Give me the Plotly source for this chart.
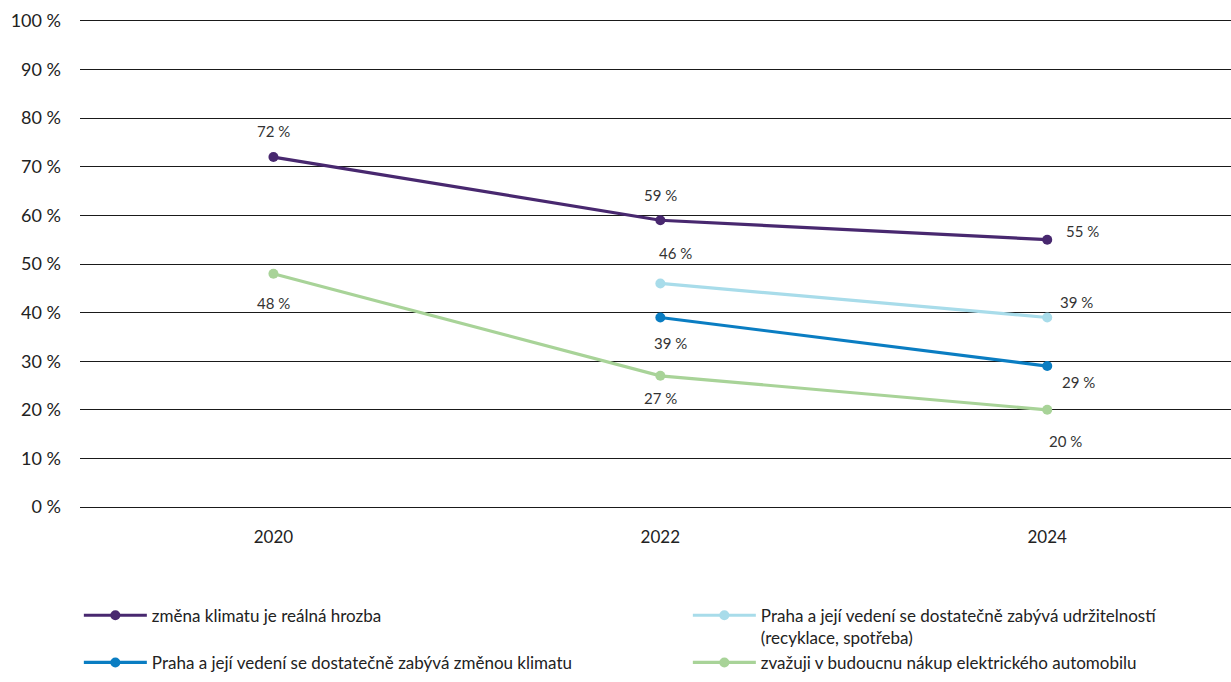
import plotly.graph_objects as go

years = ["2020", "2022", "2024"]
names = [
    "změna klimatu je reálná hrozba",
    "Praha a její vedení se dostatečně zabývá udržitelností<br>(recyklace, spotřeba)",
    "Praha a její vedení se dostatečně zabývá změnou klimatu",
    "zvažuji v budoucnu nákup elektrického automobilu",
]
climate_threat = [72, 59, 55]
sustainability = [None, 46, 39]
climate_city = [None, 39, 29]
electric_car = [48, 27, 20]
series = [climate_threat, sustainability, climate_city, electric_car]
colors = ["#48286f", "#a8dcea", "#0a7dc2", "#a8d398"]

# label offsets (xshift, yshift) per series per point
offsets = [
    [(0, 26), (0, 25), (35, 9)],
    [None, (15, 30), (29, 15)],
    [None, (10, -26), (31, -16)],
    [(0, -29), (0, -22), (18, -31)],
]

fig = go.Figure()
xi = list(range(len(years)))
for name, vals, col in zip(names, series, colors):
    xs = [x for x, v in zip(xi, vals) if v is not None]
    ys = [v for v in vals if v is not None]
    fig.add_trace(go.Scatter(
        x=xs, y=ys, name=name, mode="lines+markers",
        line=dict(color=col, width=3.2),
        marker=dict(color=col, size=10),
        hoverinfo="skip",
    ))

for vals, offs in zip(series, offsets):
    for x, v, o in zip(xi, vals, offs):
        if v is None:
            continue
        fig.add_annotation(
            x=x, y=v, text=f"{v} %", showarrow=False,
            xshift=o[0], yshift=o[1],
            font=dict(family="Lato", size=15, color="#333333"),
        )

fig.update_layout(
    width=1231, height=682,
    margin=dict(l=80, r=0, t=19, b=173, autoexpand=False),
    plot_bgcolor="white", paper_bgcolor="white",
    font=dict(family="Lato", size=17, color="#222222"),
    showlegend=True,
    legend=dict(
        orientation="h", x=-0.001, xanchor="left", y=-0.181, yanchor="top",
        entrywidth=531, valign="top",
        font=dict(family="Lato", size=17, color="#222222"),
        itemwidth=63, tracegroupgap=0,
    ),
    xaxis=dict(
        range=[-0.5, 2.475], tickmode="array", tickvals=xi, ticktext=years,
        showgrid=False, zeroline=False, showline=False, ticks="",
        ticklabelstandoff=16,
        tickfont=dict(family="Lato", size=17, color="#222222"),
        fixedrange=True,
    ),
    yaxis=dict(
        range=[-0.4, 100.4], tickvals=list(range(0, 101, 10)),
        ticktext=[f"{v} %" for v in range(0, 101, 10)],
        showgrid=True, gridcolor="#1a1a1a", gridwidth=1,
        zeroline=False, showline=False, ticks="", ticklabelstandoff=18,
        tickfont=dict(family="Lato", size=18, color="#222222"),
        fixedrange=True,
    ),
)

fig.write_html(
    "out.html",
    config={"displayModeBar": False},
    post_script="document.body.style.margin='0';document.body.style.padding='0';",
)
